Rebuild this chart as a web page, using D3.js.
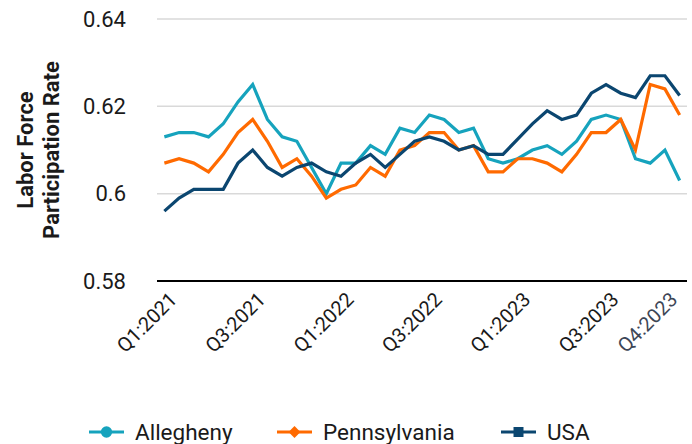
<!DOCTYPE html>
<html>
<head>
<meta charset="utf-8">
<script src="https://cdn.jsdelivr.net/npm/d3@7"></script>
<style>
  body { margin: 0; background: #fff; }
  text { font-family: Roboto, "Liberation Sans", sans-serif; }
</style>
</head>
<body>
<div id="wrapper"></div>
<script>
const months = [
  "Jan 2021","Feb 2021","Mar 2021","Apr 2021","May 2021","Jun 2021",
  "Jul 2021","Aug 2021","Sep 2021","Oct 2021","Nov 2021","Dec 2021",
  "Jan 2022","Feb 2022","Mar 2022","Apr 2022","May 2022","Jun 2022",
  "Jul 2022","Aug 2022","Sep 2022","Oct 2022","Nov 2022","Dec 2022",
  "Jan 2023","Feb 2023","Mar 2023","Apr 2023","May 2023","Jun 2023",
  "Jul 2023","Aug 2023","Sep 2023","Oct 2023","Nov 2023","Dec 2023"
];

const allegheny = [
  0.613, 0.614, 0.614, 0.613, 0.616, 0.621, 0.625, 0.617, 0.613, 0.612, 0.606, 0.600,
  0.607, 0.607, 0.611, 0.609, 0.615, 0.614, 0.618, 0.617, 0.614, 0.615, 0.608, 0.607,
  0.608, 0.610, 0.611, 0.609, 0.612, 0.617, 0.618, 0.617, 0.608, 0.607, 0.610, 0.603
];
const pennsylvania = [
  0.607, 0.608, 0.607, 0.605, 0.609, 0.614, 0.617, 0.612, 0.606, 0.608, 0.604, 0.599,
  0.601, 0.602, 0.606, 0.604, 0.610, 0.611, 0.614, 0.614, 0.610, 0.611, 0.605, 0.605,
  0.608, 0.608, 0.607, 0.605, 0.609, 0.614, 0.614, 0.617, 0.610, 0.625, 0.624, 0.618
];
const usa = [
  0.596, 0.599, 0.601, 0.601, 0.601, 0.607, 0.610, 0.606, 0.604, 0.606, 0.607, 0.605,
  0.604, 0.607, 0.609, 0.606, 0.609, 0.612, 0.613, 0.612, 0.610, 0.611, 0.609, 0.609,
  0.6125, 0.616, 0.619, 0.617, 0.618, 0.623, 0.625, 0.623, 0.622, 0.627, 0.627, 0.6225
];

const tickMonths = ["Jan 2021","Jul 2021","Jan 2022","Jul 2022","Jan 2023","Jul 2023","Nov 2023"];
const tickLabels = ["Q1:2021","Q3:2021","Q1:2022","Q3:2022","Q1:2023","Q3:2023","Q4:2023"];
const yTicks = [0.58, 0.60, 0.62, 0.64];

const series = [
  { name: "Allegheny", values: allegheny, color: "#16a3bd", marker: "circle" },
  { name: "Pennsylvania", values: pennsylvania, color: "#ff6a00", marker: "diamond" },
  { name: "USA", values: usa, color: "#0b4670", marker: "square" }
];

let dimensions = {
  width: 692,
  height: 444,
  margin: { top: 19, right: 5, bottom: 163, left: 157 }
};
dimensions.boundedWidth = dimensions.width - dimensions.margin.left - dimensions.margin.right;
dimensions.boundedHeight = dimensions.height - dimensions.margin.top - dimensions.margin.bottom;

const wrapper = d3.select("#wrapper")
  .append("svg")
  .attr("width", dimensions.width)
  .attr("height", dimensions.height);

const bounds = wrapper.append("g")
  .attr("transform", `translate(${dimensions.margin.left},${dimensions.margin.top})`);

// scales
const xScale = d3.scaleBand()
  .domain(months)
  .range([0, 530]);
const xCenter = m => xScale(m) + xScale.bandwidth() / 2;

const yScale = d3.scaleLinear()
  .domain([0.58, 0.64])
  .range([dimensions.boundedHeight, 0]);

// gridlines
bounds.append("g")
  .selectAll("line")
  .data(yTicks.filter(d => d > 0.58))
  .join("line")
  .attr("x1", 0)
  .attr("x2", dimensions.boundedWidth)
  .attr("y1", d => yScale(d))
  .attr("y2", d => yScale(d))
  .attr("stroke", "#d9d9d9")
  .attr("stroke-width", 1.5);

// y axis labels
const yAxis = d3.axisLeft(yScale)
  .tickValues(yTicks)
  .tickSize(0)
  .tickPadding(31)
  .tickFormat(d => d3.format("")(+d.toFixed(2)));
bounds.append("g")
  .call(yAxis)
  .call(g => g.select(".domain").remove())
  .selectAll("text")
  .attr("font-size", 22)
  .attr("fill", "#1a1a1a");

// x axis
const xAxisG = bounds.append("g")
  .attr("transform", `translate(0,${dimensions.boundedHeight})`);
xAxisG.append("line")
  .attr("x1", 0)
  .attr("x2", dimensions.boundedWidth)
  .attr("stroke", "#000")
  .attr("stroke-width", 2);
xAxisG.selectAll("text")
  .data(tickMonths)
  .join("text")
  .attr("transform", d => `translate(${xCenter(d) + 4},10) rotate(-45)`)
  .attr("text-anchor", "end")
  .attr("dy", "0.7em")
  .attr("font-size", 20)
  .attr("fill", (d, i) => i === tickMonths.length - 1 ? "#3d4656" : "#1a1a1a")
  .text((d, i) => tickLabels[i]);

// lines
const lineGen = d3.line()
  .x((d, i) => xCenter(months[i]))
  .y(d => yScale(d));

bounds.selectAll(".series")
  .data(series)
  .join("path")
  .attr("class", "series")
  .attr("d", d => lineGen(d.values))
  .attr("fill", "none")
  .attr("stroke", d => d.color)
  .attr("stroke-width", 3.2)
  .attr("stroke-linejoin", "miter");

// y title
wrapper.append("text")
  .attr("transform", "translate(41,150) rotate(-90)")
  .attr("text-anchor", "middle")
  .attr("font-size", 22)
  .attr("font-weight", "bold")
  .attr("fill", "#1a1a1a")
  .selectAll("tspan")
  .data(["Labor Force", "Participation Rate"])
  .join("tspan")
  .attr("x", 0)
  .attr("dy", (d, i) => i === 0 ? "-0.35em" : "1.16em")
  .text(d => d);

// legend
const legendX = [89, 277, 501];
const legend = wrapper.append("g")
  .attr("transform", "translate(0,432)");
const items = legend.selectAll("g")
  .data(series)
  .join("g")
  .attr("transform", (d, i) => `translate(${legendX[i]},0)`);
items.append("line")
  .attr("x1", 0).attr("x2", 35)
  .attr("stroke", d => d.color)
  .attr("stroke-width", 3.2);
items.append("path")
  .attr("transform", "translate(17.5,0)")
  .attr("d", d => {
    const type = d.marker === "circle" ? d3.symbolCircle
      : d.marker === "diamond" ? d3.symbolDiamond2 : d3.symbolSquare;
    return d3.symbol().type(type).size(d.marker === "diamond" ? 90 : 100)();
  })
  .attr("fill", d => d.color);
items.append("text")
  .attr("x", 46)
  .attr("dy", "0.36em")
  .attr("font-size", 22.5)
  .attr("fill", "#1a1a1a")
  .text(d => d.name);
</script>
</body>
</html>
